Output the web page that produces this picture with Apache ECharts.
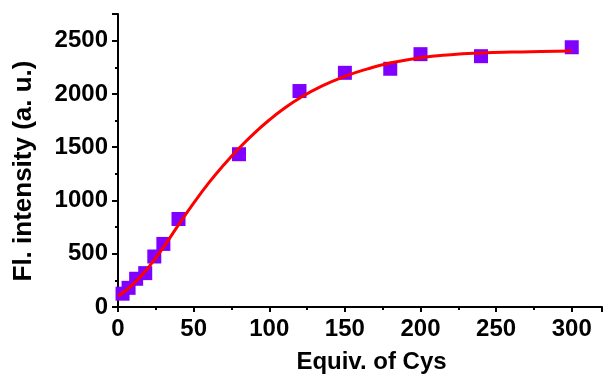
<!DOCTYPE html>
<html>
<head>
<meta charset="utf-8">
<script src="https://cdn.jsdelivr.net/npm/echarts@6/dist/echarts.min.js"></script>
<style>
  html, body { margin: 0; padding: 0; background: #fff; }
  #chart { width: 605px; height: 379px; }
</style>
</head>
<body>
<div id="chart"></div>
<script>
// measured points (equiv. of Cys vs intensity)
const cysEquiv = [3, 7, 12, 18, 24, 30, 40, 80, 120, 150, 180, 200, 240, 300];
const intensity = [125, 180, 265, 318, 474, 592, 826, 1434, 2027, 2198, 2236, 2373, 2354, 2438];

// fitted curve
const fitX = [0, 10, 20, 30, 40, 50, 60, 70, 80, 90, 100, 110, 120, 135, 150, 165, 180, 200, 220, 240, 260, 280, 300];
const fitY = [100, 215, 370, 560, 770, 975, 1165, 1335, 1490, 1630, 1755, 1865, 1960, 2075, 2165, 2235, 2290, 2340, 2368, 2384, 2393, 2398, 2402];

const xTicks = [0, 50, 100, 150, 200, 250, 300];
const yTicks = [0, 500, 1000, 1500, 2000, 2500];

const chart = echarts.init(document.getElementById("chart"));

const font = "'Liberation Sans', Arial, sans-serif";

chart.setOption({
  animation: false,
  grid: { left: 118, right: 2, top: 14, bottom: 70 },
  xAxis: {
    type: "value",
    min: 0,
    max: 320,
    interval: 50,
    name: "Equiv. of Cys",
    nameLocation: "middle",
    nameGap: 43,
    nameTextStyle: { color: "#000", fontSize: 24, fontWeight: "bold", fontFamily: font, padding: [0, 0, 0, 23] },
    axisLine: { onZero: false, lineStyle: { color: "#000", width: 2 } },
    axisTick: { length: 5, lineStyle: { color: "#000", width: 2 } },
    minorTick: { show: true, splitNumber: 2, length: 3, lineStyle: { color: "#000", width: 2 } },
    axisLabel: {
      color: "#000", fontSize: 24, fontWeight: "bold", fontFamily: font, margin: 10,
      formatter: (v) => (xTicks.includes(v) ? String(v) : ""),
    },
    splitLine: { show: false },
  },
  yAxis: {
    type: "value",
    min: 0,
    max: 2750,
    interval: 500,
    name: "Fl. intensity (a. u.)",
    nameLocation: "middle",
    nameGap: 81,
    nameTextStyle: { color: "#000", fontSize: 26, fontWeight: "bold", fontFamily: font, padding: [0, 21, 0, 0] },
    axisLine: { show: true, onZero: false, lineStyle: { color: "#000", width: 2 } },
    axisTick: { show: true, length: 6, lineStyle: { color: "#000", width: 2 } },
    minorTick: { show: true, splitNumber: 2, length: 3, lineStyle: { color: "#000", width: 2 } },
    axisLabel: {
      color: "#000", fontSize: 24, fontWeight: "bold", fontFamily: font, margin: 10,
      formatter: (v) => (yTicks.includes(v) ? String(v) : ""),
    },
    splitLine: { show: false },
  },
  series: [
    {
      type: "scatter",
      symbol: "rect",
      symbolSize: 14,
      itemStyle: { color: "#7f00ff", opacity: 1 },
      data: cysEquiv.map((x, i) => [x, intensity[i]]),
      z: 2,
    },
    {
      type: "line",
      smooth: true,
      showSymbol: false,
      lineStyle: { color: "#ff0000", width: 3 },
      data: fitX.map((x, i) => [x, fitY[i]]),
      z: 3,
    },
  ],
});
</script>
</body>
</html>
